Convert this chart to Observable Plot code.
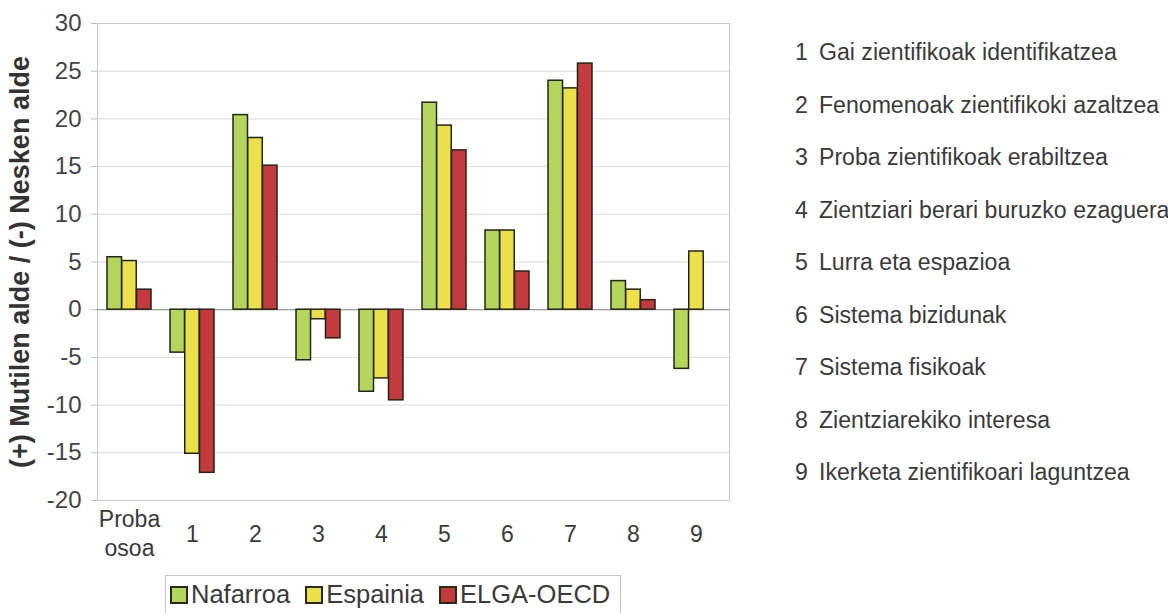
<!DOCTYPE html>
<html><head><meta charset="utf-8">
<script src="https://cdn.jsdelivr.net/npm/d3@7"></script>
<script src="https://cdn.jsdelivr.net/npm/@observablehq/plot@0.6"></script>
<style>
body{margin:0;background:#fff;font-family:"Liberation Sans",Arial,sans-serif;}
#wrap{position:relative;width:1168px;height:613px;overflow:hidden;background:#fff}
#chart{position:absolute;left:0;top:0}
#list{position:absolute;left:795px;top:26px;font-size:23.1px;color:#3a3a3a;line-height:52.5px;margin:0;padding:0;list-style:none;white-space:nowrap}
#list .n{display:inline-block;width:24px}
#legend{position:absolute;left:165px;top:575px;width:456px;height:38px;border:1px solid #c4c4c4;border-bottom:none;box-sizing:border-box;display:flex;align-items:center;font-size:25.5px;color:#3a3a3a;padding-left:4px;white-space:nowrap}
#legend .sw{display:inline-block;width:14px;height:14px;border:2px solid #2a2a1a;margin-right:3px;flex:none}
#legend .it{display:flex;align-items:center;margin-right:15px;flex:none;white-space:nowrap}
</style></head>
<body>
<div id="wrap">
  <div id="chart"></div>
  <ul id="list"></ul>
  <div id="legend"></div>
</div>
<script>
const categories = ["Proba osoa", "1", "2", "3", "4", "5", "6", "7", "8", "9"];
const seriesNames = ["Nafarroa", "Espainia", "ELGA-OECD"];
const nafarroa = [5.5, -4.5, 20.4, -5.3, -8.6, 21.7, 8.3, 24.0, 3.0, -6.2];
const espainia = [5.1, -15.1, 18.0, -1.0, -7.2, 19.3, 8.3, 23.2, 2.1, 6.1];
const oecd     = [2.1, -17.1, 15.1, -3.0, -9.5, 16.7, 4.0, 25.8, 1.0, null];
const yTicks = [-20, -15, -10, -5, 0, 5, 10, 15, 20, 25, 30];
const yLabel = "(+) Mutilen alde / (-) Nesken alde";
const descriptions = [
  "Gai zientifikoak identifikatzea",
  "Fenomenoak zientifikoki azaltzea",
  "Proba zientifikoak erabiltzea",
  "Zientziari berari buruzko ezaguera",
  "Lurra eta espazioa",
  "Sistema bizidunak",
  "Sistema fisikoak",
  "Zientziarekiko interesa",
  "Ikerketa zientifikoari laguntzea"
];
const colors = ["#b4d65c", "#ebe04c", "#c33b3e"];

const values = [nafarroa, espainia, oecd];
const rows = categories.flatMap((c, i) => seriesNames.map((s, j) => ({category: c, series: s, value: values[j][i]})))
  .filter(d => d.value != null);

const W = 745, H = 565, ML = 97, MR = 16, MT = 23, MB = 65;
const step = (W - ML - MR) / categories.length;
const bw = step * 0.7;
const sub = bw / 3;

const plot = Plot.plot({
  width: W, height: H,
  marginLeft: ML, marginRight: MR, marginTop: MT, marginBottom: MB,
  style: {fontFamily: "'Liberation Sans', Arial, sans-serif", fontSize: "24px", background: "#fff"},
  x: {type: "band", domain: categories, paddingInner: 0.3, paddingOuter: 0.15},
  y: {domain: [-20, 30]},
  marks: [
    Plot.ruleY(yTicks, {stroke: "#dadada"}),
    Plot.frame({stroke: "#c8c8c8"}),
    Plot.ruleY([0], {stroke: "#8c8c8c"}),
    ...seriesNames.map((s, j) => Plot.barY(rows.filter(d => d.series === s), {
      x: "category", y: "value", fill: colors[j], stroke: "#242414", strokeWidth: 1.5,
      insetLeft: j * sub, insetRight: (2 - j) * sub
    })),
    Plot.axisY(yTicks, {tickSize: 6, tickPadding: 10, stroke: "#bbb", fill: "#444", label: null,
      tickFormat: d => String(d)}),
    Plot.axisX({tickSize: 0, tickPadding: 32, lineAnchor: "middle", lineHeight: 1.25, fill: "#3a3a3a", fontSize: 23,
      tickFormat: d => d.replace(" ", "\n"), label: null}),
    Plot.text([yLabel], {frameAnchor: "left", textAnchor: "middle", rotate: -90, dx: -77, fontWeight: "bold", fontSize: 27, fill: "#333"})
  ]
});
document.getElementById("chart").appendChild(plot);

const list = document.getElementById("list");
descriptions.forEach((t, i) => {
  const li = document.createElement("li");
  li.innerHTML = `<span class="n">${i + 1}</span>${t}`;
  list.appendChild(li);
});
const legend = document.getElementById("legend");
seriesNames.forEach((s, j) => {
  const it = document.createElement("span");
  it.className = "it";
  it.innerHTML = `<span class="sw" style="background:${colors[j]}"></span>${s}`;
  legend.appendChild(it);
});
</script>
</body></html>
